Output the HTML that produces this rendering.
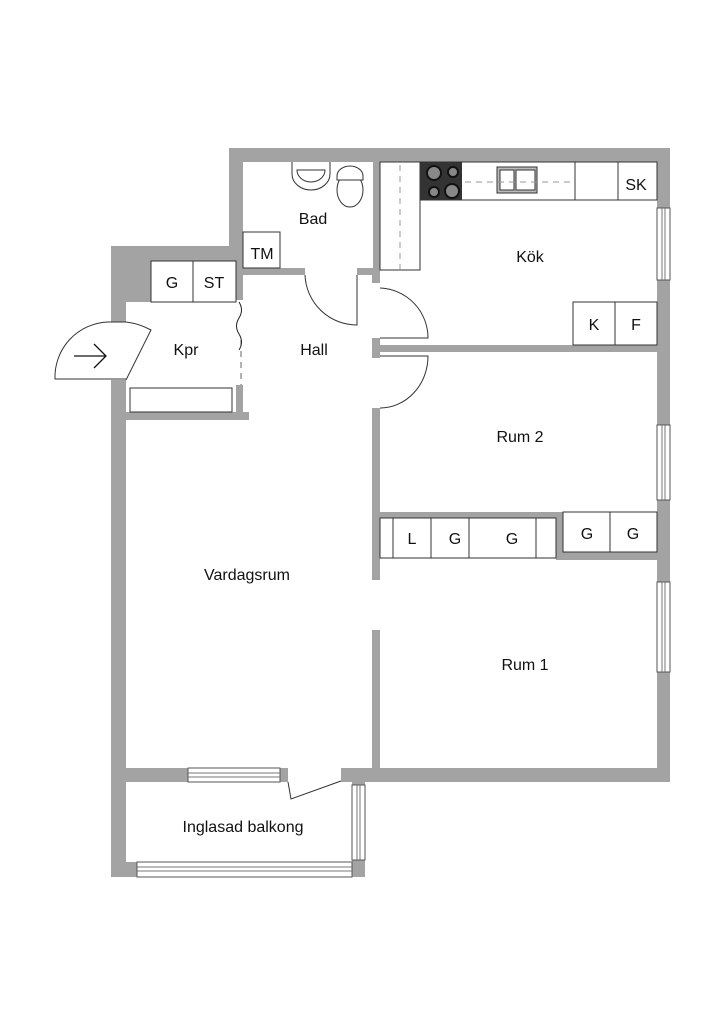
<!DOCTYPE html>
<html><head><meta charset="utf-8"><style>
html,body{margin:0;padding:0;background:#fff}
svg{display:block}
text{font-family:"Liberation Sans",sans-serif;font-size:16px;fill:#111;text-anchor:middle}
</style></head><body>
<svg width="724" height="1024" viewBox="0 0 724 1024" xmlns="http://www.w3.org/2000/svg">
<g fill="#a3a3a3">
<rect x="229" y="148" width="441" height="14"/>
<rect x="657" y="148" width="13" height="634"/>
<rect x="229" y="148" width="14" height="112"/>
<rect x="111" y="246" width="132" height="15"/>
<rect x="111" y="246" width="40" height="56"/>
<rect x="236" y="246" width="7" height="54"/>
<rect x="111" y="246" width="15" height="76"/>
<rect x="111" y="380" width="15" height="497"/>
<rect x="126" y="412" width="123" height="8"/>
<rect x="236" y="385" width="7" height="27"/>
<rect x="243" y="268" width="62" height="7"/>
<rect x="357" y="268" width="23" height="7"/>
<rect x="373" y="162" width="7" height="113"/>
<rect x="372" y="275" width="8" height="8"/>
<rect x="372" y="338" width="8" height="20"/>
<rect x="372" y="345" width="285" height="7"/>
<rect x="372" y="408" width="8" height="172"/>
<rect x="372" y="630" width="8" height="138"/>
<rect x="372" y="512" width="191" height="6"/>
<rect x="556" y="512" width="7" height="48"/>
<rect x="556" y="552" width="101" height="8"/>
<rect x="111" y="768" width="77" height="14"/>
<rect x="280" y="768" width="8" height="14"/>
<rect x="341" y="768" width="329" height="14"/>
<rect x="352" y="782" width="13" height="95"/>
<rect x="111" y="862" width="254" height="15"/>
</g>
<g fill="#fff" stroke="#555" stroke-width="1">
<rect x="657" y="208" width="13" height="72"/>
<rect x="657" y="425" width="13" height="75"/>
<rect x="657" y="582" width="13" height="90"/>
<rect x="188" y="768" width="92" height="14"/>
<rect x="352" y="785" width="13" height="75"/>
<rect x="137" y="862" width="215" height="15"/>
</g>
<g stroke="#777" stroke-width="1">
<line x1="662" y1="208" x2="662" y2="280"/><line x1="665" y1="208" x2="665" y2="280"/>
<line x1="662" y1="425" x2="662" y2="500"/><line x1="665" y1="425" x2="665" y2="500"/>
<line x1="662" y1="582" x2="662" y2="672"/><line x1="665" y1="582" x2="665" y2="672"/>
<line x1="188" y1="773" x2="280" y2="773"/><line x1="188" y1="777" x2="280" y2="777"/>
<line x1="357" y1="785" x2="357" y2="860"/><line x1="360" y1="785" x2="360" y2="860"/>
<line x1="137" y1="867" x2="352" y2="867"/><line x1="137" y1="871" x2="352" y2="871"/>
</g>
<g fill="#fff" stroke="#333" stroke-width="1">
<rect x="151" y="261" width="42" height="41"/><rect x="193" y="261" width="43" height="41"/>
<rect x="130" y="388" width="102" height="24"/>
<rect x="243" y="232" width="37" height="36"/>
<rect x="420" y="162" width="155" height="38"/>
<rect x="575" y="162" width="43" height="38"/><rect x="618" y="162" width="39" height="38"/>
<rect x="380" y="162" width="40" height="108"/>
<rect x="573" y="302" width="42" height="43"/><rect x="615" y="302" width="42" height="43"/>
<rect x="380" y="518" width="13" height="40"/><rect x="393" y="518" width="38" height="40"/>
<rect x="431" y="518" width="38" height="40"/><rect x="469" y="518" width="67" height="40"/>
<rect x="536" y="518" width="20" height="40"/>
<rect x="563" y="512" width="47" height="40"/><rect x="610" y="512" width="47" height="40"/>
<path d="M292 162 v12 a19 16 0 0 0 38 0 v-12"/>
<path d="M297 170 a14 12 0 0 0 28 0 z"/>
<ellipse cx="350" cy="190" rx="13" ry="17"/>
<path d="M337 176 a13 10 0 0 1 26 0 v4 h-26 z"/>
<rect x="497" y="167" width="40" height="26" fill="#bbb"/>
<rect x="500" y="170" width="14" height="20"/><rect x="516" y="170" width="19" height="20"/>
</g>
<rect x="420" y="162" width="42" height="38" fill="#333"/>
<g fill="#888" stroke="#111" stroke-width="2">
<circle cx="434" cy="173" r="7"/><circle cx="453" cy="172" r="5"/>
<circle cx="434" cy="192" r="5"/><circle cx="452" cy="191" r="7"/>
</g>
<g stroke="#999" stroke-width="1" stroke-dasharray="6 5" fill="none">
<line x1="465" y1="182" x2="575" y2="182"/>
<line x1="400" y1="165" x2="400" y2="270"/>
<line x1="241" y1="340" x2="241" y2="385" stroke="#666"/>
</g>
<path d="M239 302 q5 8 0 16 q-5 8 0 16 q5 8 0 16" stroke="#222" fill="none"/>
<g fill="none" stroke="#333" stroke-width="1">
<path d="M305 275 a52 52 0 0 0 52 50 v-50"/>
<path d="M380 288 a50 50 0 0 1 48 50 h-48"/>
<path d="M380 408 a48 52 0 0 0 48 -52 h-48"/>
<path d="M126 322 h-18 a55 55 0 0 0 -53 57 h71"/>
<path d="M126 322 a70 70 0 0 1 25 8 l-25 50"/>
<path d="M288 782 l3 17 l50 -18"/>
<path d="M74 356 h32 M94 344 l12 12 l-12 12" stroke="#111" stroke-width="1.3"/>
</g>
<text x="313" y="224">Bad</text>
<text x="262" y="259">TM</text>
<text x="172" y="288">G</text>
<text x="214" y="288">ST</text>
<text x="530" y="262">Kök</text>
<text x="636" y="190">SK</text>
<text x="594" y="330">K</text>
<text x="636" y="330">F</text>
<text x="186" y="355">Kpr</text>
<text x="314" y="355">Hall</text>
<text x="520" y="442">Rum 2</text>
<text x="412" y="544">L</text>
<text x="455" y="544">G</text>
<text x="512" y="544">G</text>
<text x="587" y="539">G</text>
<text x="633" y="539">G</text>
<text x="247" y="580">Vardagsrum</text>
<text x="525" y="670">Rum 1</text>
<text x="243" y="832">Inglasad balkong</text>
</svg>
</body></html>
